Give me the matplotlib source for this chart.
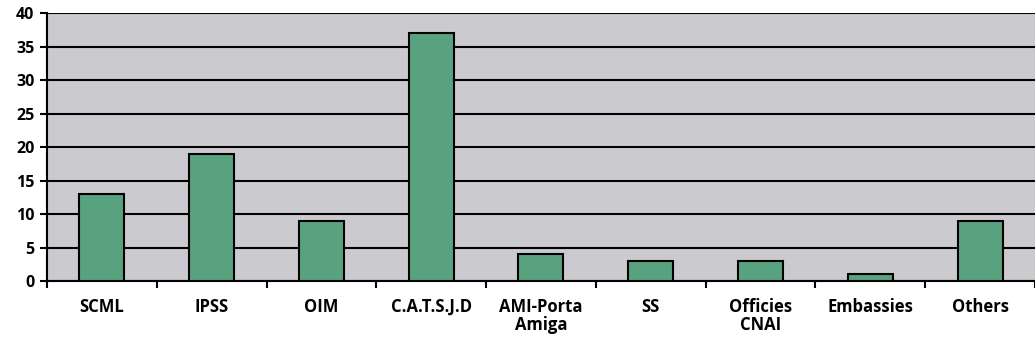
import matplotlib.pyplot as plt
from matplotlib.ticker import FixedLocator, NullFormatter

categories = ["SCML", "IPSS", "OIM", "C.A.T.S.J.D", "AMI-Porta\nAmiga",
              "SS", "Officies\nCNAI", "Embassies", "Others"]
values = [13, 19, 9, 37, 4, 3, 3, 1, 9]
yticks = [0, 5, 10, 15, 20, 25, 30, 35, 40]

plt.rcParams['font.family'] = ['Open Sans', 'DejaVu Sans']

fig = plt.figure(figsize=(10.35, 3.45), dpi=100)
ax = fig.add_axes([0.0454, 0.1855, 0.9546, 0.7765])
ax.set_facecolor('#cbcacf')

x = list(range(len(categories)))
ax.bar(x, values, width=0.41, color='#58a280', edgecolor='black',
       linewidth=1.5, zorder=3)

ax.set_xlim(-0.5, len(categories) - 0.5)
ax.set_ylim(0, 40)
ax.set_yticks(yticks)
ax.set_yticklabels([str(v) for v in yticks], fontsize=11.5, fontweight='bold')
ax.yaxis.grid(True, color='black', linewidth=1.5, zorder=0)
ax.set_axisbelow(True)

# category labels centred, tick marks between categories
ax.set_xticks(x)
ax.set_xticklabels(categories, fontsize=12, fontweight='bold', linespacing=1.05)
ax.tick_params(axis='x', which='major', length=0, pad=12)
ax.xaxis.set_minor_locator(FixedLocator([i + 0.5 for i in range(-1, len(categories))]))
ax.xaxis.set_minor_formatter(NullFormatter())
ax.tick_params(axis='x', which='minor', length=5, width=1.5, direction='out')
ax.tick_params(axis='y', length=5, width=1.5, pad=4)

for side in ['top', 'right']:
    ax.spines[side].set_visible(False)
for side in ['left', 'bottom']:
    ax.spines[side].set_linewidth(1.5)

fig.savefig('out.png', dpi=100)
